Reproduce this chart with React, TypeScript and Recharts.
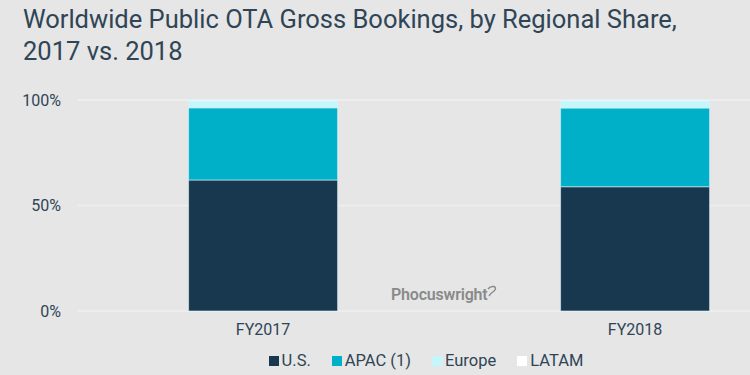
import { BarChart, Bar, XAxis, YAxis, CartesianGrid } from 'recharts';

// Data
const categories = ['FY2017', 'FY2018'];
const usShare = [0.621, 0.589];
const apacShare = [0.342, 0.373];
const europeShare = [0.033, 0.034];
const latamShare = [0.004, 0.004];
const yTicks = [0, 0.5, 1];

const series = [
  { key: 'us', name: 'U.S.', color: '#183850', values: usShare },
  { key: 'apac', name: 'APAC (1)', color: '#00afc8', values: apacShare },
  { key: 'europe', name: 'Europe', color: '#c4f6fb', values: europeShare },
  { key: 'latam', name: 'LATAM', color: '#ffffff', values: latamShare },
];

const chartData = categories.map((name, i) => {
  const row: Record<string, string | number> = { name };
  series.forEach((s) => {
    row[s.key] = s.values[i];
  });
  return row;
});

const FONT = 'Roboto, "Noto Sans", sans-serif';
const TEXT = '#2f4556';

const App = () => {
  return (
    <div
      style={{
        position: 'fixed',
        left: 0,
        top: 0,
        width: 750,
        height: 375,
        overflow: 'hidden',
        background: '#e6e6e6',
        fontFamily: FONT,
      }}
    >
      <div
        style={{
          position: 'absolute',
          left: 23,
          top: 3,
          fontSize: 25.5,
          lineHeight: '32px',
          color: TEXT,
          whiteSpace: 'nowrap',
        }}
      >
        Worldwide Public OTA Gross Bookings, by Regional Share,
        <br />
        2017 vs. 2018
      </div>

      <div style={{ position: 'absolute', left: 0, top: 0 }}>
        <BarChart
          width={830}
          height={375}
          data={chartData}
          margin={{ top: 100, right: 9, bottom: 34, left: 0 }}
          barCategoryGap="30%"
        >
          <CartesianGrid vertical={false} stroke="#efefef" strokeWidth={1.5} />
          <XAxis
            dataKey="name"
            axisLine={false}
            tickLine={false}
            tickSize={0}
            tickMargin={13}
            height={30}
            tick={{ fill: TEXT, fontSize: 16, fontFamily: FONT }}
          />
          <YAxis
            width={77}
            domain={[0, 1]}
            ticks={yTicks}
            axisLine={false}
            tickLine={false}
            tickSize={0}
            tickMargin={16}
            tickFormatter={(v: number) => `${Math.round(v * 100)}%`}
            tick={{ fill: TEXT, fontSize: 16, fontFamily: FONT }}
          />
          {series.map((s) => (
            <Bar
              key={s.key}
              dataKey={s.key}
              name={s.name}
              stackId="a"
              fill={s.color}
              stroke="#dcf4f8"
              strokeWidth={0.6}
              isAnimationActive={false}
            />
          ))}
        </BarChart>
      </div>

      <div
        style={{
          position: 'absolute',
          left: 391,
          top: 285,
          fontSize: 16,
          fontWeight: 600,
          letterSpacing: -0.2,
          color: '#8a8a8a',
          display: 'flex',
          alignItems: 'flex-start',
        }}
      >
        <span>Phocuswright</span>
        <svg width="12" height="14" style={{ marginLeft: -1, marginTop: 0 }}>
          <path d="M2 4 Q4 1 8 1.5 Q11 3 8 6 Q5 8 3 11" fill="none" stroke="#8a8a8a" strokeWidth={1.4} />
        </svg>
      </div>

      <div
        style={{
          position: 'absolute',
          left: 0,
          width: 852,
          top: 351,
          display: 'flex',
          justifyContent: 'center',
          gap: 21,
          fontSize: 16.5,
          color: TEXT,
        }}
      >
        {series.map((s) => (
          <div key={s.key} style={{ display: 'flex', alignItems: 'center' }}>
            <span
              style={{
                display: 'inline-block',
                width: 10,
                height: 10,
                background: s.color,
                marginRight: 3,
              }}
            />
            <span>{s.name}</span>
          </div>
        ))}
      </div>
    </div>
  );
};

export default App;
